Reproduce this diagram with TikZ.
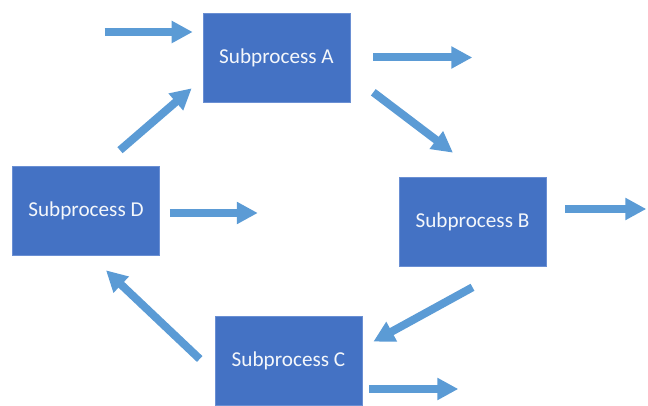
\documentclass[tikz,border=0pt]{standalone}
\usepackage{fontspec}
\setmainfont{Carlito}
\usetikzlibrary{arrows.meta}
\definecolor{boxblue}{HTML}{4472C4}
\definecolor{boxedge}{HTML}{6A8FD3}
\definecolor{flowblue}{HTML}{5B9BD5}
\begin{document}
\begin{tikzpicture}[x=1pt,y=1pt,
	sub/.style={rectangle, fill=boxblue, draw=boxedge, line width=0.6pt, minimum width=147pt, minimum height=89pt, inner sep=0pt, text=white!94!boxblue, font=\fontsize{21.2}{25}\selectfont},
	flow/.style={draw=flowblue, line width=8pt, -{Triangle[width=21pt,length=21pt]}, flowblue}]
			\useasboundingbox (0,0) rectangle (648,406);
			\node at (276.5,348.5) (A) [sub] {Subprocess A} ;
			\node at (472.5,184.5) (B) [sub] {Subprocess B} ;
			\node at (288.5,45.5) (C) [sub] {Subprocess C} ;
			\node at (86,195.5) (D) [sub] {Subprocess D} ;
			% loop A -> B -> C -> D -> A
			\draw[flow] ([shift={(23,10)}]A.south east) -- ([shift={(-19.5,24)}]B.north);
			\draw[flow] ([shift={(0,-21)}]B.south) -- ([shift={(11,-26)}]C.north east);
			\draw[flow] ([shift={(-15,1.5)}]C.west) -- ([shift={(20,-15)}]D.south);
			\draw[flow] ([shift={(34,15.5)}]D.north) -- ([shift={(-11,14)}]A.south west);
			% inputs and outputs
			\draw[flow] ([shift={(-98,25.5)}]A.west) coordinate (inA) -- ([shift={(-10,25.5)}]A.west);
			\draw[flow] ([shift={(23,0)}]A.east) -- ([shift={(122,0)}]A.east) coordinate (outA);
			\draw[flow] ([shift={(19,12.5)}]B.east) -- ([shift={(100,12.5)}]B.east) coordinate (outB);
			\draw[flow] ([shift={(7,-28.5)}]C.east) -- ([shift={(96,-28.5)}]C.east) coordinate (outC);
			\draw[flow] ([shift={(10,-2.5)}]D.east) -- ([shift={(98,-2.5)}]D.east) coordinate (outD);
\end{tikzpicture}
\end{document}
